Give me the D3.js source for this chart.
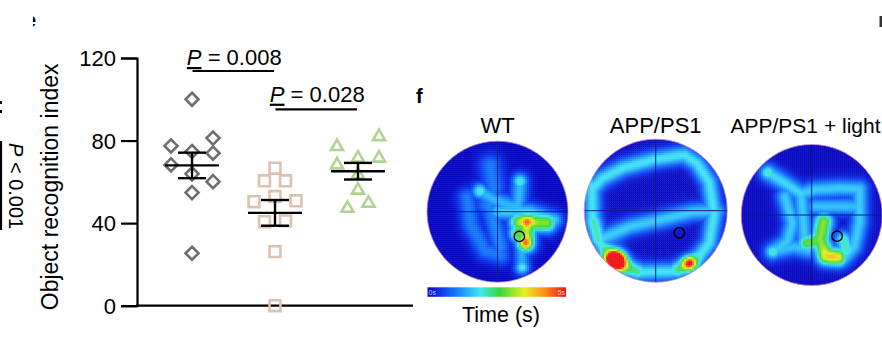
<!DOCTYPE html>
<html><head><meta charset="utf-8">
<script src="https://cdn.jsdelivr.net/npm/d3@7"></script>
<style>html,body{margin:0;padding:0;background:#fff;}svg{display:block;font-family:"Liberation Sans",Arial,sans-serif;}</style>
</head><body><svg id="c" width="882" height="345"></svg>
<script>
// ---------- data ----------
const groups = ["WT", "APP/PS1", "APP/PS1 + light"];
const wtValues = [100, 77.4, 81.2, 74.7, 73.9, 68.2, 63.9, 60.1, 54.8, 25.4];
const appValues = [66.6, 60.5, 60.5, 50.4, 52.9, 50.8, 40.7, 41.1, 26.2, 0];
const lightValues = [77.1, 81.9, 71.5, 71.5, 68.2, 63.4, 56.0, 47.2, 49.6];
// scatter jitter lanes (half-lane units)
const wtLane = [0, -2, 2, 0, 2, -2, 0, 2, 0, 0];
const appLane = [0, -1, 1, -2, 0, 2, -1, 1, 0, 0];
const lightLane = [-2, 2, 0, 2, -2, 0, 0, -1, 1];
const yTicks = [0, 40, 80, 120];
const yLabel = "Object recognition index";
const comparisons = [
  {a: 0, b: 1, p: "0.008"},
  {a: 1, b: 2, p: "0.028"}
];
const heatTitles = ["WT", "APP/PS1", "APP/PS1 + light"];
const colorbarLabels = ["0s", "5s"];
const colorbarTitle = "Time (s)";
// heat-map tracks (normalized arena coords, u right, v down), dwell weight w, spread s
const wtTracks = [
  {pts: [[-0.1,-0.65],[-0.05,-0.35],[-0.15,-0.1]], w: 0.2, s: 0.12},
  {pts: [[-0.25,-0.29],[-0.05,-0.17],[0.15,-0.1],[0.3,-0.05]], w: 0.3, s: 0.09},
  {pts: [[0.32,-0.43],[0.3,-0.15],[0.25,0.0]], w: 0.3, s: 0.09},
  {pts: [[-0.43,-0.2],[-0.38,0.18],[-0.18,0.55],[0.05,0.62]], w: 0.2, s: 0.1},
  {pts: [[-0.13,-0.12],[-0.03,0.22],[0.04,0.5]], w: 0.22, s: 0.1},
  {pts: [[0.0,0.0],[0.45,0.0],[0.8,0.12]], w: 0.34, s: 0.09},
  {pts: [[0.34,0.5],[0.35,0.8]], w: 0.28, s: 0.08},
  {pts: [[-0.25,-0.29]], w: 0.42, s: 0.08},
  {pts: [[0.32,-0.43]], w: 0.42, s: 0.08},
  {pts: [[0.35,0.79]], w: 0.4, s: 0.075},
  {pts: [[0.3,0.15],[0.45,0.15],[0.7,0.16]], w: 0.6, s: 0.1},
  {pts: [[0.42,0.15],[0.4,0.45]], w: 0.62, s: 0.1},
  {pts: [[0.3,0.3],[0.42,0.3]], w: 0.56, s: 0.1}
];
const wtSpots = [[0.42,0.14,0.3,0.06],[0.4,0.44,0.28,0.06]];
const appTracks = [
  {pts: [[-0.89,-0.35],[-0.88,0.1],[-0.78,0.45],[-0.6,0.7],[-0.2,0.86],[0.25,0.85],[0.55,0.72],[0.75,0.45]], w: 0.37, s: 0.09},
  {pts: [[0.75,0.45],[0.82,0.05],[0.75,-0.4],[0.58,-0.66]], w: 0.37, s: 0.09},
  {pts: [[0.58,-0.66],[0.4,-0.78],[0.0,-0.72],[-0.45,-0.6],[-0.75,-0.45],[-0.89,-0.3]], w: 0.37, s: 0.09},
  {pts: [[-0.78,0.4],[-0.35,0.22],[0.1,0.12],[0.5,0.02],[0.85,0.0]], w: 0.33, s: 0.09},
  {pts: [[-0.45,0.78],[-0.25,0.85]], w: 0.46, s: 0.09},
  {pts: [[0.3,0.83],[0.5,0.74]], w: 0.46, s: 0.09},
  {pts: [[-0.87,0.15],[-0.8,0.4]], w: 0.43, s: 0.09}
];
const appSpots = [[-0.56,0.69,1.5,0.095],[0.47,0.73,0.6,0.07]];
const lightTracks = [
  {pts: [[-0.62,-0.6],[-0.38,-0.45],[-0.15,-0.3]], w: 0.35, s: 0.09},
  {pts: [[-0.15,-0.3],[0.05,-0.36],[0.4,-0.38],[0.68,-0.37]], w: 0.33, s: 0.09},
  {pts: [[0.05,-0.12],[0.4,-0.12],[0.68,-0.12]], w: 0.31, s: 0.09},
  {pts: [[0.68,-0.37],[0.68,0.1],[0.6,0.45],[0.45,0.62]], w: 0.33, s: 0.09},
  {pts: [[-0.38,-0.26],[-0.27,0.12],[-0.35,0.38],[-0.55,0.52]], w: 0.33, s: 0.09},
  {pts: [[-0.15,-0.3],[-0.12,0.05],[-0.1,0.35]], w: 0.33, s: 0.09},
  {pts: [[-0.55,0.52],[-0.25,0.45],[-0.05,0.5]], w: 0.31, s: 0.09},
  {pts: [[-0.62,-0.6]], w: 0.43, s: 0.08},
  {pts: [[-0.55,0.52]], w: 0.43, s: 0.08},
  {pts: [[0.17,0.1],[0.12,0.35],[0.2,0.58],[0.38,0.6]], w: 0.6, s: 0.1},
  {pts: [[-0.07,0.4],[0.12,0.35]], w: 0.56, s: 0.09},
  {pts: [[0.45,0.35],[0.5,0.5]], w: 0.42, s: 0.09}
];
const lightSpots = [[0.22,0.58,0.14,0.08],[0.35,0.6,0.12,0.07]];
const targets = [[0.31,0.35],[0.33,0.31],[0.36,0.3]];

// ---------- drawing ----------
const svg = d3.select("#c");
const series = [
  {vals: wtValues, lane: wtLane, shape: "diamond", color: "#6e6e6e"},
  {vals: appValues, lane: appLane, shape: "square", color: "#dcc2b0"},
  {vals: lightValues, lane: lightLane, shape: "triangle", color: "#b3d394"}
];

const y = d3.scaleLinear().domain([0, 120]).range([305.7, 58]);
const x = d3.scalePoint().domain(groups).range([137, 413]).padding(0.663);
const laneW = 10.5;

// y axis
const yAxis = svg.append("g").attr("transform", "translate(137,0)")
  .call(d3.axisLeft(y).tickValues(yTicks).tickSize(16).tickPadding(5));
yAxis.select(".domain").attr("stroke", "#000").attr("stroke-width", 2.2);
yAxis.selectAll(".tick line").attr("stroke", "#000").attr("stroke-width", 2.2);
yAxis.selectAll(".tick text").attr("font-size", 22).attr("fill", "#000")
  .attr("font-family", '"Liberation Sans",Arial,sans-serif').attr("dy", "0.35em");
svg.append("line").attr("x1", 136).attr("x2", 413).attr("y1", y(0)).attr("y2", y(0))
  .attr("stroke", "#000").attr("stroke-width", 2.2);

svg.append("text").attr("transform", `translate(58,${(y(0)+y(120))/2 + 5}) rotate(-90)`)
  .attr("text-anchor", "middle").attr("font-size", 23).text(yLabel);

// markers
const sym = {
  diamond: d3.symbol().type(d3.symbolDiamond2).size(108),
  square: d3.symbol().type(d3.symbolSquare2).size(150),
  triangle: d3.symbol().type(d3.symbolTriangle2).size(105)
};
series.forEach((s, gi) => {
  const g = svg.append("g");
  g.selectAll("path").data(s.vals).join("path")
    .attr("d", sym[s.shape]())
    .attr("transform", (v, i) => `translate(${x(groups[gi]) + s.lane[i]*laneW},${y(v)})`)
    .attr("fill", "none").attr("stroke", s.color).attr("stroke-width", 2.6);
  const m = d3.mean(s.vals);
  const sem = d3.deviation(s.vals) / Math.sqrt(s.vals.length);
  const cx = x(groups[gi]);
  const e = svg.append("g").attr("stroke", "#000").attr("stroke-width", 2.4);
  e.append("line").attr("x1", cx-27).attr("x2", cx+27).attr("y1", y(m)).attr("y2", y(m));
  e.append("line").attr("x1", cx).attr("x2", cx).attr("y1", y(m+sem)).attr("y2", y(m-sem));
  e.append("line").attr("x1", cx-14).attr("x2", cx+14).attr("y1", y(m+sem)).attr("y2", y(m+sem));
  e.append("line").attr("x1", cx-14).attr("x2", cx+14).attr("y1", y(m-sem)).attr("y2", y(m-sem));
});

// significance
const sigLevels = [{ty: 65, ly: 71}, {ty: 101.7, ly: 109.3}];
comparisons.forEach((c, i) => {
  const x1 = x(groups[c.a]) + 0.5, x2 = x(groups[c.b]) - 1;
  svg.append("line").attr("x1", x1).attr("x2", x2).attr("y1", sigLevels[i].ly).attr("y2", sigLevels[i].ly)
    .attr("stroke", "#000").attr("stroke-width", 2.2);
  const t = svg.append("text").attr("x", (x1+x2)/2 + 1).attr("y", sigLevels[i].ty)
    .attr("text-anchor", "middle").attr("font-size", 22);
  t.append("tspan").attr("font-style", "italic").attr("text-decoration", "underline").text("P");
  t.append("tspan").text(" = " + c.p);
});

// left cut-off annotation
svg.append("line").attr("x1", 1).attr("x2", 1).attr("y1", 141).attr("y2", 230)
  .attr("stroke", "#000").attr("stroke-width", 2.2);
const lt = svg.append("text").attr("transform", "translate(9,143) rotate(90)").attr("font-size", 20);
lt.append("tspan").attr("font-style", "italic").text("P");
lt.append("tspan").text(" < 0.001");
svg.append("rect").attr("x", 0).attr("y", 101).attr("width", 2).attr("height", 3).attr("fill", "#000");
svg.append("rect").attr("x", 0).attr("y", 110).attr("width", 2).attr("height", 3).attr("fill", "#000");
// cut-off panel letter marks
svg.append("clipPath").attr("id", "ecl").append("rect").attr("x", 33).attr("y", 0).attr("width", 10).attr("height", 40);
svg.append("text").attr("clip-path", "url(#ecl)").attr("x", 25).attr("y", 27)
  .attr("font-size", 20).attr("font-weight", "bold").text("e");
svg.append("rect").attr("x", 879.5).attr("y", 16).attr("width", 2.5).attr("height", 11).attr("fill", "#333");

// panel f
svg.append("text").attr("x", 416).attr("y", 103).attr("font-size", 20).attr("font-weight", "bold").text("f");

const jet = d3.scaleLinear()
  .domain([0, 0.1, 0.24, 0.38, 0.52, 0.7, 0.85, 1])
  .range(["#0606c2", "#0b3cef", "#1a90ff", "#3fe8f5", "#3ad63a", "#e8f020", "#ff8a1a", "#ee1111"])
  .clamp(true);

function segDist(px, py, a, b) {
  const dx = b[0]-a[0], dy = b[1]-a[1];
  const L = dx*dx + dy*dy;
  let t = L ? ((px-a[0])*dx + (py-a[1])*dy) / L : 0;
  t = Math.max(0, Math.min(1, t));
  const qx = a[0] + t*dx - px, qy = a[1] + t*dy - py;
  return qx*qx + qy*qy;
}
function density(u, v, tracks, spots) {
  let T = 0;
  tracks.forEach(tr => {
    let m = Infinity;
    if (tr.pts.length === 1) m = (u-tr.pts[0][0])**2 + (v-tr.pts[0][1])**2;
    for (let k = 0; k < tr.pts.length-1; k++) m = Math.min(m, segDist(u, v, tr.pts[k], tr.pts[k+1]));
    T = Math.max(T, tr.w * Math.exp(-m / (2*tr.s*tr.s)));
  });
  let S = 0;
  spots.forEach(sp => {
    const dd = (u-sp[0])**2 + (v-sp[1])**2;
    S += sp[2] * Math.exp(-dd / (2*sp[3]*sp[3]));
  });
  return T + S;
}

const arenas = [
  {cx: 497.5, cy: 211.7, r: 70.5, tracks: wtTracks, spots: wtSpots},
  {cx: 655.7, cy: 210.7, r: 71.5, tracks: appTracks, spots: appSpots},
  {cx: 811.7, cy: 215, r: 70.5, tracks: lightTracks, spots: lightSpots}
];
const cell = 2;
arenas.forEach((A, ai) => {
  const xs = d3.scaleLinear().domain([-1, 1]).range([A.cx - A.r, A.cx + A.r]);
  const ys = d3.scaleLinear().domain([-1, 1]).range([A.cy - A.r, A.cy + A.r]);
  const n = Math.ceil(2*A.r / cell);
  const cells = [];
  for (let i = 0; i < n; i++) for (let j = 0; j < n; j++) {
    const u = xs.invert(A.cx - A.r + (i+0.5)*cell), v = ys.invert(A.cy - A.r + (j+0.5)*cell);
    if (u*u + v*v > 1.06) continue;
    cells.push({u, v, d: density(u, v, A.tracks, A.spots)});
  }
  const cid = "arena" + ai;
  svg.append("clipPath").attr("id", cid).append("circle").attr("cx", A.cx).attr("cy", A.cy).attr("r", A.r);
  const g = svg.append("g").attr("clip-path", `url(#${cid})`);
  g.selectAll("rect").data(cells).join("rect")
    .attr("x", d => xs(d.u) - cell/2).attr("y", d => ys(d.v) - cell/2)
    .attr("width", cell + 0.4).attr("height", cell + 0.4)
    .attr("fill", d => jet(d.d));
  g.append("line").attr("x1", xs(-1)).attr("x2", xs(1)).attr("y1", ys(0)).attr("y2", ys(0))
    .attr("stroke", "#101a7a").attr("stroke-width", 1);
  g.append("line").attr("x1", xs(0)).attr("x2", xs(0)).attr("y1", ys(-1)).attr("y2", ys(1))
    .attr("stroke", "#101a7a").attr("stroke-width", 1);
  svg.append("circle").attr("cx", A.cx).attr("cy", A.cy).attr("r", A.r)
    .attr("fill", "none").attr("stroke", "#c88ac8").attr("stroke-width", 0.8);
  svg.append("circle").attr("cx", xs(targets[ai][0])).attr("cy", ys(targets[ai][1])).attr("r", 5.2)
    .attr("fill", "none").attr("stroke", "#000").attr("stroke-width", 1.4);
  const title = svg.append("text").attr("y", 133).text(heatTitles[ai]);
  if (ai < 2) title.attr("x", A.cx).attr("text-anchor", "middle").attr("font-size", 22);
  else title.attr("x", 730.5).attr("font-size", 21);
});

// colorbar
const cb = {x0: 427.5, x1: 566, y0: 287.3, h: 9.5};
const cbScale = d3.scaleLinear().domain([0, 1]).range([cb.x0, cb.x1]);
const grad = svg.append("defs").append("linearGradient").attr("id", "jetg");
jet.domain().forEach((t, k) => grad.append("stop").attr("offset", t).attr("stop-color", jet.range()[k]));
svg.append("rect").attr("x", cbScale(0)).attr("y", cb.y0).attr("width", cbScale(1) - cbScale(0))
  .attr("height", cb.h).attr("fill", "url(#jetg)");
svg.append("text").attr("x", cbScale(0) + 1).attr("y", cb.y0 + 8).attr("font-size", 7)
  .attr("fill", "#c8d0ff").text(colorbarLabels[0]);
svg.append("text").attr("x", cbScale(1) - 1).attr("y", cb.y0 + 8).attr("font-size", 7)
  .attr("text-anchor", "end").attr("fill", "#ffd0d0").text(colorbarLabels[1]);
svg.append("text").attr("x", 501).attr("y", 322).attr("text-anchor", "middle").attr("font-size", 21.5).text(colorbarTitle);
</script></body></html>
